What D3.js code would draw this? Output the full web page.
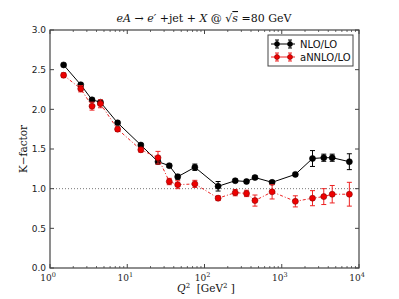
<!DOCTYPE html>
<html><head><meta charset="utf-8">
<script src="https://d3js.org/d3.v7.min.js"></script>
<style>body{margin:0;background:#fff}svg{display:block}</style>
</head><body>
<script>
const q2 = [1.5,2.5,3.5,4.5,7.5,15,25,35,45,75,150,250,350,450,750,1500,2500,3500,4500,7500];
const nloLo = [2.56,2.31,2.12,2.09,1.83,1.55,1.34,1.29,1.15,1.27,1.03,1.10,1.09,1.14,1.08,1.18,1.38,1.39,1.39,1.34];
const nloErr = [0.02,0.02,0.02,0.02,0.02,0.02,0.03,0.02,0.03,0.04,0.06,0.02,0.02,0.02,0.02,0.02,0.10,0.045,0.045,0.10];
const annloLo = [2.43,2.26,2.04,2.07,1.75,1.49,1.39,1.09,1.05,1.06,0.88,0.95,0.94,0.85,0.96,0.84,0.88,0.90,0.93,0.93];
const annloErr = [0.03,0.04,0.05,0.05,0.03,0.03,0.08,0.04,0.05,0.045,0.03,0.04,0.04,0.07,0.09,0.07,0.095,0.10,0.11,0.15];
const yTicks = [0.0,0.5,1.0,1.5,2.0,2.5,3.0];
const xTickExps = [0,1,2,3,4];
const seriesNames = ["NLO/LO","aNNLO/LO"];

const W=399,H=299;
const L=50,R=359,T=30,B=268;
const svg=d3.select("body").append("svg").attr("width",W).attr("height",H);
const x=d3.scaleLog().domain([1,1e4]).range([L,R]);
const y=d3.scaleLinear().domain([0,3]).range([B,T]);

svg.append("line").attr("x1",L).attr("x2",R).attr("y1",y(1)).attr("y2",y(1))
  .attr("stroke","#555").attr("stroke-width",0.8).attr("stroke-dasharray","1,2");

function drawSeries(vals,errs,color,dash,fill,edge){
  const pts=q2.map((q,i)=>({x:q,y:vals[i],e:errs[i]}));
  const g=svg.append("g");
  g.append("path").datum(pts).attr("fill","none").attr("stroke",color).attr("stroke-width",1)
    .attr("stroke-dasharray",dash).attr("d",d3.line().x(d=>x(d.x)).y(d=>y(d.y)));
  const eb=g.selectAll(".eb").data(pts).enter().append("g");
  eb.append("line").attr("x1",d=>x(d.x)).attr("x2",d=>x(d.x)).attr("y1",d=>y(d.y-d.e)).attr("y2",d=>y(d.y+d.e)).attr("stroke",color).attr("stroke-width",1);
  eb.append("line").attr("x1",d=>x(d.x)-2.5).attr("x2",d=>x(d.x)+2.5).attr("y1",d=>y(d.y-d.e)).attr("y2",d=>y(d.y-d.e)).attr("stroke",color).attr("stroke-width",1);
  eb.append("line").attr("x1",d=>x(d.x)-2.5).attr("x2",d=>x(d.x)+2.5).attr("y1",d=>y(d.y+d.e)).attr("y2",d=>y(d.y+d.e)).attr("stroke",color).attr("stroke-width",1);
  g.selectAll("circle").data(pts).enter().append("circle").attr("cx",d=>x(d.x)).attr("cy",d=>y(d.y)).attr("r",3)
    .attr("fill",fill).attr("stroke",edge).attr("stroke-width",0.6);
}
drawSeries(nloLo,nloErr,"#000",null,"#000","#000");
drawSeries(annloLo,annloErr,"#e22","3,2,1,2","#e00","#800");

svg.append("rect").attr("x",L).attr("y",T).attr("width",R-L).attr("height",B-T).attr("fill","none").attr("stroke","#444").attr("stroke-width",1.2);

const tk=svg.append("g");
yTicks.forEach(v=>{
  tk.append("line").attr("x1",L).attr("x2",L+4).attr("y1",y(v)).attr("y2",y(v)).attr("stroke","#444");
  tk.append("line").attr("x1",R).attr("x2",R-4).attr("y1",y(v)).attr("y2",y(v)).attr("stroke","#444");
  tk.append("text").attr("x",L-4).attr("y",y(v)+3.2).attr("text-anchor","end").attr("font-family","DejaVu Sans").attr("font-size",9).attr("fill","#222").text(v.toFixed(1));
});
xTickExps.forEach(e=>{
  const v=Math.pow(10,e);
  tk.append("line").attr("x1",x(v)).attr("x2",x(v)).attr("y1",B).attr("y2",B-4).attr("stroke","#444");
  tk.append("line").attr("x1",x(v)).attr("x2",x(v)).attr("y1",T).attr("y2",T+4).attr("stroke","#444");
  const t=tk.append("text").attr("x",x(v)-2).attr("y",B+13).attr("text-anchor","middle").attr("font-family","DejaVu Serif").attr("font-size",9).attr("fill","#222");
  t.append("tspan").text("10");
  t.append("tspan").attr("dy",-4).attr("font-size",6.5).text(String(e));
  if(e<4){for(let m=2;m<10;m++){const mv=m*v;
    tk.append("line").attr("x1",x(mv)).attr("x2",x(mv)).attr("y1",B).attr("y2",B-2).attr("stroke","#444").attr("stroke-width",0.8);
    tk.append("line").attr("x1",x(mv)).attr("x2",x(mv)).attr("y1",T).attr("y2",T+2).attr("stroke","#444").attr("stroke-width",0.8);
  }}
});

const title=svg.append("text").attr("x",204).attr("y",22).attr("text-anchor","middle").attr("font-family","DejaVu Serif").attr("font-size",11).attr("fill","#111");
title.append("tspan").attr("font-style","italic").text("eA");
title.append("tspan").text(" → ");
title.append("tspan").attr("font-style","italic").text("e′");
title.append("tspan").text(" +jet + ");
title.append("tspan").attr("font-style","italic").text("X");
title.append("tspan").text(" @ √");
title.append("tspan").attr("font-style","italic").attr("text-decoration","overline").text("s");
title.append("tspan").text(" =80 GeV");

svg.append("text").attr("transform",`translate(27,${(T+B)/2}) rotate(-90)`).attr("text-anchor","middle").attr("font-family","DejaVu Serif").attr("font-size",10.5).attr("fill","#111").text("K−factor");

const xl=svg.append("text").attr("x",206).attr("y",292).attr("text-anchor","middle").attr("font-family","DejaVu Serif").attr("font-size",10.5).attr("fill","#111");
xl.append("tspan").attr("font-style","italic").text("Q");
xl.append("tspan").attr("dy",-4).attr("font-size",7).text("2");
xl.append("tspan").attr("dy",4).text("\u00a0\u00a0[GeV");
xl.append("tspan").attr("dy",-4).attr("font-size",7).text("2");
xl.append("tspan").attr("dy",4).text("\u00a0]");

const lg=svg.append("g");
lg.append("rect").attr("x",268).attr("y",35).attr("width",85).attr("height",31).attr("fill","#fff").attr("stroke","#444").attr("stroke-width",1);
[{c:"#000",f:"#000",e:"#000"},{c:"#e22",f:"#e00",e:"#800"}].forEach((s,i)=>{
  const cy=44+i*13;
  lg.append("line").attr("x1",271).attr("x2",295).attr("y1",cy).attr("y2",cy).attr("stroke",s.c).attr("stroke-width",1);
  [277,290].forEach(cx=>{
    lg.append("line").attr("x1",cx).attr("x2",cx).attr("y1",cy-4).attr("y2",cy+4).attr("stroke",s.c);
    lg.append("line").attr("x1",cx-2).attr("x2",cx+2).attr("y1",cy-4).attr("y2",cy-4).attr("stroke",s.c);
    lg.append("line").attr("x1",cx-2).attr("x2",cx+2).attr("y1",cy+4).attr("y2",cy+4).attr("stroke",s.c);
    lg.append("circle").attr("cx",cx).attr("cy",cy).attr("r",2.5).attr("fill",s.f).attr("stroke",s.e).attr("stroke-width",0.6);
  });
  lg.append("text").attr("x",300).attr("y",cy+3.5).attr("font-family","DejaVu Sans").attr("font-size",10).attr("fill","#111").text(seriesNames[i]);
});
</script>
</body></html>
